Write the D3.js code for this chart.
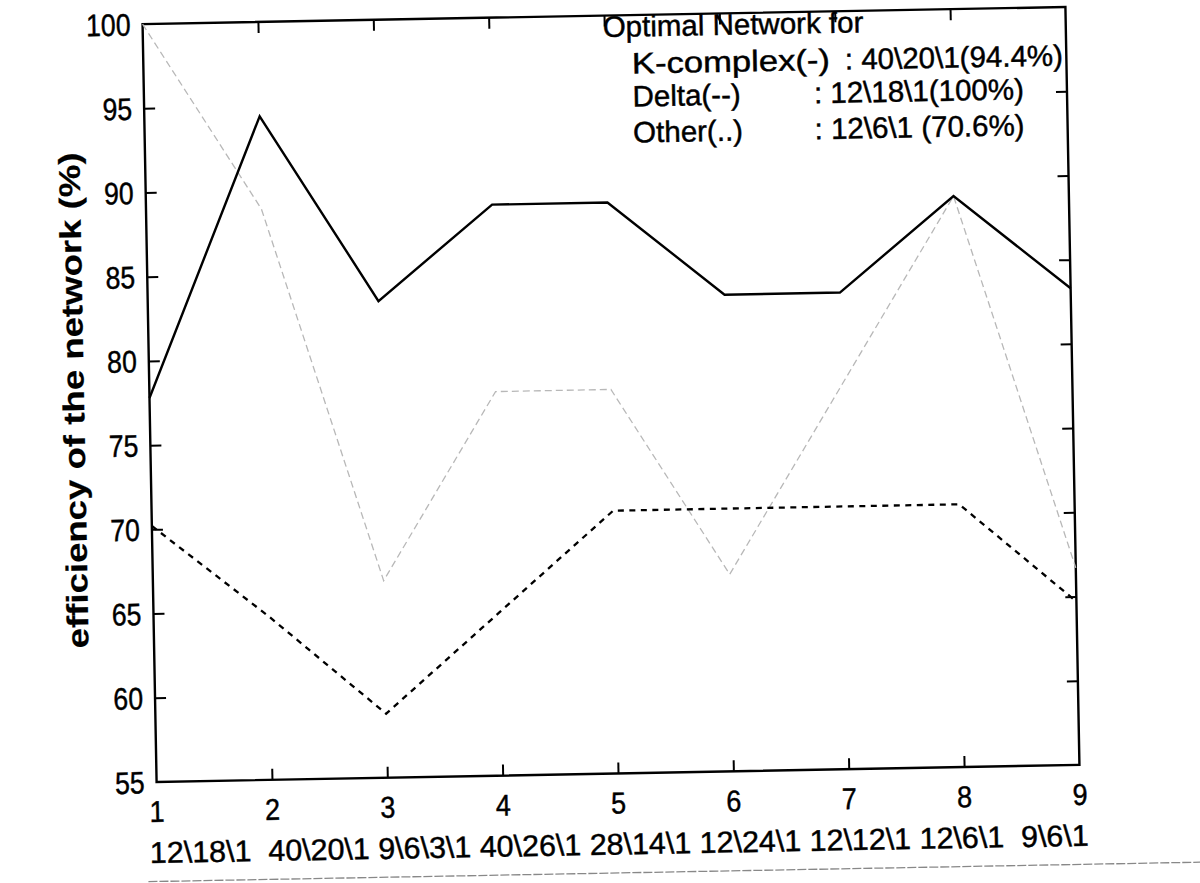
<!DOCTYPE html>
<html>
<head>
<meta charset="utf-8">
<script src="https://cdn.jsdelivr.net/npm/d3@7"></script>
<style>
  body { margin: 0; background: #fff; }
  svg { display: block; }
  text { font-family: "Liberation Sans", Arial, Helvetica, sans-serif; fill: #000; stroke: #000; stroke-width: 0.45px; }
</style>
</head>
<body>
<svg id="chart" width="1200" height="883"></svg>
<script>
// Network index on the x axis and the architecture tested at each index
const xIndex = [1, 2, 3, 4, 5, 6, 7, 8, 9];
const networks = ["12\\18\\1", "40\\20\\1", "9\\6\\3\\1", "40\\26\\1", "28\\14\\1",
                  "12\\24\\1", "12\\12\\1", "12\\6\\1", "9\\6\\1"];
// number of blanks written after each architecture on the label line
const labelGaps = [2, 1, 1, 1, 1, 1, 1, 2, 0];

// Classification efficiency (%) per network
const kComplex = [77.8, 94.4, 83.3, 88.9, 88.9, 83.3, 83.3, 88.9, 83.3];
const delta    = [100, 88.9, 66.7, 77.8, 77.8, 66.7, 77.8, 88.9, 66.7];
const other    = [70.2, 64.7, 58.8, 64.7, 70.6, 70.6, 70.6, 70.6, 64.7];

const yTicks = [55, 60, 65, 70, 75, 80, 85, 90, 95, 100];
const yTitle = "efficiency of the network (%)";

const legendTitle = "Optimal Network for";
const legendNames = ["K-complex(-)", "Delta(--)", "Other(..)"];
const legendValues = [": 40\\20\\1(94.4%)", ": 12\\18\\1(100%)", ": 12\\6\\1 (70.6%)"];

// ---- layout ----
const W = 1200, H = 883;
const box = { left: 149.5, right: 1072.5, top: 15.5, bottom: 773.5 };
const cx = (box.left + box.right) / 2, cy = (box.top + box.bottom) / 2;

const svg = d3.select("#chart");
svg.append("rect").attr("width", W).attr("height", H).attr("fill", "#fff");

// the printed page sits slightly askew
const g = svg.append("g").attr("transform", `rotate(-1.06, ${cx}, ${cy})`);

const x = d3.scaleLinear().domain([1, 9]).range([box.left, box.right]);
const y = d3.scaleLinear().domain([55, 100]).range([box.bottom, box.top]);

// squeeze a text selection horizontally to a fraction of its natural width
function condense(sel, k) {
  sel.each(function () {
    const w = this.getComputedTextLength();
    d3.select(this).attr("textLength", w * k).attr("lengthAdjust", "spacingAndGlyphs");
  });
}

// frame
g.append("rect")
  .attr("x", box.left).attr("y", box.top)
  .attr("width", box.right - box.left).attr("height", box.bottom - box.top)
  .attr("fill", "none").attr("stroke", "#000").attr("stroke-width", 2.4);

const tickLen = 11;
const innerX = xIndex.slice(1, -1);
const innerY = yTicks.slice(1, -1);

// inward ticks on all four sides via d3 axes with no labels
g.append("g").attr("transform", `translate(0,${box.bottom})`)
  .call(d3.axisTop(x).tickValues(innerX).tickSize(tickLen).tickFormat(""))
  .call(a => a.select(".domain").remove());
g.append("g").attr("transform", `translate(0,${box.top})`)
  .call(d3.axisBottom(x).tickValues(innerX).tickSize(tickLen).tickFormat(""))
  .call(a => a.select(".domain").remove());
g.append("g").attr("transform", `translate(${box.left},0)`)
  .call(d3.axisRight(y).tickValues(innerY).tickSize(tickLen).tickFormat(""))
  .call(a => a.select(".domain").remove());
g.append("g").attr("transform", `translate(${box.right},0)`)
  .call(d3.axisLeft(y).tickValues(innerY).tickSize(tickLen).tickFormat(""))
  .call(a => a.select(".domain").remove());
g.selectAll(".tick line").attr("stroke", "#000").attr("stroke-width", 2);

// y tick labels
g.append("g").selectAll("text").data(yTicks).join("text")
  .attr("x", box.left - 12)
  .attr("y", d => y(d))
  .attr("dy", "0.36em")
  .attr("text-anchor", "end")
  .attr("font-size", 31)
  .text(d => d)
  .call(condense, 0.86);

// x tick labels (index numbers)
g.append("g").selectAll("text").data(xIndex).join("text")
  .attr("x", d => x(d))
  .attr("y", box.bottom + 40)
  .attr("text-anchor", "middle")
  .attr("font-size", 30)
  .text(d => d)
  .call(condense, 0.9);

// network architectures, laid out as one typed line under the indices
const labelRow = g.append("g").attr("font-size", 30);
const labelSel = labelRow.selectAll("text").data(networks).join("text")
  .attr("y", box.bottom + 81)
  .text(d => d);
const widths = labelSel.nodes().map(n => n.getComputedTextLength());
const blank = 30 * 0.278;
const natural = d3.sum(widths) + d3.sum(labelGaps) * blank;
const rowStart = box.left - 8, rowWidth = 939;
const k = rowWidth / natural;
let cursor = rowStart;
labelSel.each(function (d, i) {
  d3.select(this)
    .attr("x", cursor)
    .attr("textLength", widths[i] * k)
    .attr("lengthAdjust", "spacingAndGlyphs");
  cursor += (widths[i] + labelGaps[i] * blank) * k;
});

// y axis title
g.append("text")
  .attr("transform", `translate(84,${cy - 4}) rotate(-90)`)
  .attr("text-anchor", "middle")
  .attr("font-size", 30)
  .attr("font-weight", "bold")
  .style("stroke-width", "0.2px")
  .attr("textLength", 496)
  .attr("lengthAdjust", "spacingAndGlyphs")
  .text(yTitle);

// series
const line = d3.line().x((d, i) => x(xIndex[i])).y(d => y(d));

g.append("path").datum(delta)
  .attr("d", line).attr("fill", "none")
  .attr("stroke", "#b8b8b8").attr("stroke-width", 1.3)
  .attr("stroke-dasharray", "7,4");

g.append("path").datum(other)
  .attr("d", line).attr("fill", "none")
  .attr("stroke", "#000").attr("stroke-width", 2.3)
  .attr("stroke-dasharray", "6,5.5");

g.append("path").datum(kComplex)
  .attr("d", line).attr("fill", "none")
  .attr("stroke", "#000").attr("stroke-width", 2.4)
  .attr("stroke-linejoin", "miter");

// annotation block
const lg = g.append("g").attr("font-size", 29.5);
lg.append("text").attr("x", 609.5).attr("y", 37).text(legendTitle);
const rowY = [74, 107, 143];
const valueX = [851, 819.5, 819.5];
const nameWidth = [198, null, null];
legendNames.forEach((name, i) => {
  const t = lg.append("text").attr("x", 638).attr("y", rowY[i]).text(name);
  if (nameWidth[i]) t.attr("textLength", nameWidth[i]).attr("lengthAdjust", "spacingAndGlyphs");
  lg.append("text").attr("x", valueX[i]).attr("y", rowY[i]).text(legendValues[i]);
});

// page edge below the figure
g.append("line")
  .attr("x1", box.left - 10).attr("x2", W + 60)
  .attr("y1", 873).attr("y2", 873)
  .attr("stroke", "#888").attr("stroke-width", 1.3)
  .attr("stroke-dasharray", "9,2");
</script>
</body>
</html>
